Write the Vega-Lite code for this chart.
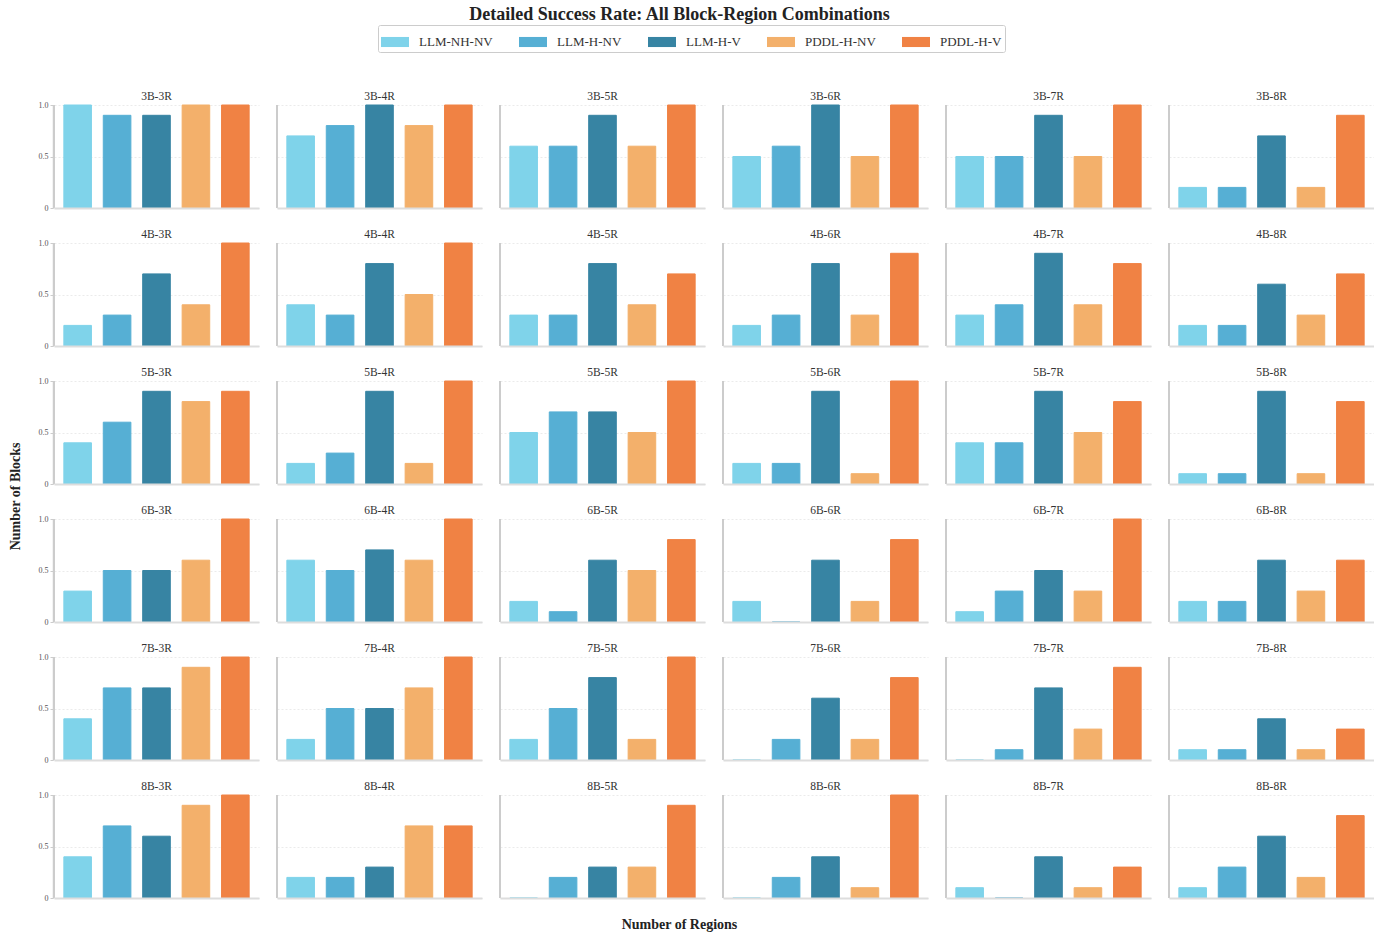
{
  "$schema": "https://vega.github.io/schema/vega-lite/v6.json",
  "background": "white",
  "padding": {"left": 8, "top": 5, "right": 0, "bottom": 5},
  "config": {
    "font": "Liberation Serif",
    "view": {"stroke": null},
    "legend": {
      "orient": "top",
      "layout": {"top": {"anchor": "middle"}},
      "direction": "horizontal",
      "columns": 5,
      "symbolType": "M-1,-0.36H1V0.36H-1Z",
      "symbolSize": 784,
      "symbolStrokeWidth": 0,
      "symbolOpacity": 1,
      "labelFontSize": 13,
      "labelFont": "Liberation Serif",
      "labelColor": "#333333",
      "columnPadding": 26,
      "labelOffset": 10,
      "strokeColor": "#cccccc",
      "padding": 3,
      "cornerRadius": 2,
      "offset": 38
    }
  },
  "title": {
    "text": "Detailed Success Rate: All Block-Region Combinations",
    "fontSize": 18,
    "fontWeight": "bold",
    "color": "#222222",
    "anchor": "middle",
    "dx": -12,
    "offset": 1
  },
  "datasets": {
    "d": [
      {"combo":"3B-3R","model":"LLM-NH-NV","rate":1.0},{"combo":"3B-3R","model":"LLM-H-NV","rate":0.9},{"combo":"3B-3R","model":"LLM-H-V","rate":0.9},{"combo":"3B-3R","model":"PDDL-H-NV","rate":1.0},{"combo":"3B-3R","model":"PDDL-H-V","rate":1.0},
      {"combo":"3B-4R","model":"LLM-NH-NV","rate":0.7},{"combo":"3B-4R","model":"LLM-H-NV","rate":0.8},{"combo":"3B-4R","model":"LLM-H-V","rate":1.0},{"combo":"3B-4R","model":"PDDL-H-NV","rate":0.8},{"combo":"3B-4R","model":"PDDL-H-V","rate":1.0},
      {"combo":"3B-5R","model":"LLM-NH-NV","rate":0.6},{"combo":"3B-5R","model":"LLM-H-NV","rate":0.6},{"combo":"3B-5R","model":"LLM-H-V","rate":0.9},{"combo":"3B-5R","model":"PDDL-H-NV","rate":0.6},{"combo":"3B-5R","model":"PDDL-H-V","rate":1.0},
      {"combo":"3B-6R","model":"LLM-NH-NV","rate":0.5},{"combo":"3B-6R","model":"LLM-H-NV","rate":0.6},{"combo":"3B-6R","model":"LLM-H-V","rate":1.0},{"combo":"3B-6R","model":"PDDL-H-NV","rate":0.5},{"combo":"3B-6R","model":"PDDL-H-V","rate":1.0},
      {"combo":"3B-7R","model":"LLM-NH-NV","rate":0.5},{"combo":"3B-7R","model":"LLM-H-NV","rate":0.5},{"combo":"3B-7R","model":"LLM-H-V","rate":0.9},{"combo":"3B-7R","model":"PDDL-H-NV","rate":0.5},{"combo":"3B-7R","model":"PDDL-H-V","rate":1.0},
      {"combo":"3B-8R","model":"LLM-NH-NV","rate":0.2},{"combo":"3B-8R","model":"LLM-H-NV","rate":0.2},{"combo":"3B-8R","model":"LLM-H-V","rate":0.7},{"combo":"3B-8R","model":"PDDL-H-NV","rate":0.2},{"combo":"3B-8R","model":"PDDL-H-V","rate":0.9},
      {"combo":"4B-3R","model":"LLM-NH-NV","rate":0.2},{"combo":"4B-3R","model":"LLM-H-NV","rate":0.3},{"combo":"4B-3R","model":"LLM-H-V","rate":0.7},{"combo":"4B-3R","model":"PDDL-H-NV","rate":0.4},{"combo":"4B-3R","model":"PDDL-H-V","rate":1.0},
      {"combo":"4B-4R","model":"LLM-NH-NV","rate":0.4},{"combo":"4B-4R","model":"LLM-H-NV","rate":0.3},{"combo":"4B-4R","model":"LLM-H-V","rate":0.8},{"combo":"4B-4R","model":"PDDL-H-NV","rate":0.5},{"combo":"4B-4R","model":"PDDL-H-V","rate":1.0},
      {"combo":"4B-5R","model":"LLM-NH-NV","rate":0.3},{"combo":"4B-5R","model":"LLM-H-NV","rate":0.3},{"combo":"4B-5R","model":"LLM-H-V","rate":0.8},{"combo":"4B-5R","model":"PDDL-H-NV","rate":0.4},{"combo":"4B-5R","model":"PDDL-H-V","rate":0.7},
      {"combo":"4B-6R","model":"LLM-NH-NV","rate":0.2},{"combo":"4B-6R","model":"LLM-H-NV","rate":0.3},{"combo":"4B-6R","model":"LLM-H-V","rate":0.8},{"combo":"4B-6R","model":"PDDL-H-NV","rate":0.3},{"combo":"4B-6R","model":"PDDL-H-V","rate":0.9},
      {"combo":"4B-7R","model":"LLM-NH-NV","rate":0.3},{"combo":"4B-7R","model":"LLM-H-NV","rate":0.4},{"combo":"4B-7R","model":"LLM-H-V","rate":0.9},{"combo":"4B-7R","model":"PDDL-H-NV","rate":0.4},{"combo":"4B-7R","model":"PDDL-H-V","rate":0.8},
      {"combo":"4B-8R","model":"LLM-NH-NV","rate":0.2},{"combo":"4B-8R","model":"LLM-H-NV","rate":0.2},{"combo":"4B-8R","model":"LLM-H-V","rate":0.6},{"combo":"4B-8R","model":"PDDL-H-NV","rate":0.3},{"combo":"4B-8R","model":"PDDL-H-V","rate":0.7},
      {"combo":"5B-3R","model":"LLM-NH-NV","rate":0.4},{"combo":"5B-3R","model":"LLM-H-NV","rate":0.6},{"combo":"5B-3R","model":"LLM-H-V","rate":0.9},{"combo":"5B-3R","model":"PDDL-H-NV","rate":0.8},{"combo":"5B-3R","model":"PDDL-H-V","rate":0.9},
      {"combo":"5B-4R","model":"LLM-NH-NV","rate":0.2},{"combo":"5B-4R","model":"LLM-H-NV","rate":0.3},{"combo":"5B-4R","model":"LLM-H-V","rate":0.9},{"combo":"5B-4R","model":"PDDL-H-NV","rate":0.2},{"combo":"5B-4R","model":"PDDL-H-V","rate":1.0},
      {"combo":"5B-5R","model":"LLM-NH-NV","rate":0.5},{"combo":"5B-5R","model":"LLM-H-NV","rate":0.7},{"combo":"5B-5R","model":"LLM-H-V","rate":0.7},{"combo":"5B-5R","model":"PDDL-H-NV","rate":0.5},{"combo":"5B-5R","model":"PDDL-H-V","rate":1.0},
      {"combo":"5B-6R","model":"LLM-NH-NV","rate":0.2},{"combo":"5B-6R","model":"LLM-H-NV","rate":0.2},{"combo":"5B-6R","model":"LLM-H-V","rate":0.9},{"combo":"5B-6R","model":"PDDL-H-NV","rate":0.1},{"combo":"5B-6R","model":"PDDL-H-V","rate":1.0},
      {"combo":"5B-7R","model":"LLM-NH-NV","rate":0.4},{"combo":"5B-7R","model":"LLM-H-NV","rate":0.4},{"combo":"5B-7R","model":"LLM-H-V","rate":0.9},{"combo":"5B-7R","model":"PDDL-H-NV","rate":0.5},{"combo":"5B-7R","model":"PDDL-H-V","rate":0.8},
      {"combo":"5B-8R","model":"LLM-NH-NV","rate":0.1},{"combo":"5B-8R","model":"LLM-H-NV","rate":0.1},{"combo":"5B-8R","model":"LLM-H-V","rate":0.9},{"combo":"5B-8R","model":"PDDL-H-NV","rate":0.1},{"combo":"5B-8R","model":"PDDL-H-V","rate":0.8},
      {"combo":"6B-3R","model":"LLM-NH-NV","rate":0.3},{"combo":"6B-3R","model":"LLM-H-NV","rate":0.5},{"combo":"6B-3R","model":"LLM-H-V","rate":0.5},{"combo":"6B-3R","model":"PDDL-H-NV","rate":0.6},{"combo":"6B-3R","model":"PDDL-H-V","rate":1.0},
      {"combo":"6B-4R","model":"LLM-NH-NV","rate":0.6},{"combo":"6B-4R","model":"LLM-H-NV","rate":0.5},{"combo":"6B-4R","model":"LLM-H-V","rate":0.7},{"combo":"6B-4R","model":"PDDL-H-NV","rate":0.6},{"combo":"6B-4R","model":"PDDL-H-V","rate":1.0},
      {"combo":"6B-5R","model":"LLM-NH-NV","rate":0.2},{"combo":"6B-5R","model":"LLM-H-NV","rate":0.1},{"combo":"6B-5R","model":"LLM-H-V","rate":0.6},{"combo":"6B-5R","model":"PDDL-H-NV","rate":0.5},{"combo":"6B-5R","model":"PDDL-H-V","rate":0.8},
      {"combo":"6B-6R","model":"LLM-NH-NV","rate":0.2},{"combo":"6B-6R","model":"LLM-H-NV","rate":0.0},{"combo":"6B-6R","model":"LLM-H-V","rate":0.6},{"combo":"6B-6R","model":"PDDL-H-NV","rate":0.2},{"combo":"6B-6R","model":"PDDL-H-V","rate":0.8},
      {"combo":"6B-7R","model":"LLM-NH-NV","rate":0.1},{"combo":"6B-7R","model":"LLM-H-NV","rate":0.3},{"combo":"6B-7R","model":"LLM-H-V","rate":0.5},{"combo":"6B-7R","model":"PDDL-H-NV","rate":0.3},{"combo":"6B-7R","model":"PDDL-H-V","rate":1.0},
      {"combo":"6B-8R","model":"LLM-NH-NV","rate":0.2},{"combo":"6B-8R","model":"LLM-H-NV","rate":0.2},{"combo":"6B-8R","model":"LLM-H-V","rate":0.6},{"combo":"6B-8R","model":"PDDL-H-NV","rate":0.3},{"combo":"6B-8R","model":"PDDL-H-V","rate":0.6},
      {"combo":"7B-3R","model":"LLM-NH-NV","rate":0.4},{"combo":"7B-3R","model":"LLM-H-NV","rate":0.7},{"combo":"7B-3R","model":"LLM-H-V","rate":0.7},{"combo":"7B-3R","model":"PDDL-H-NV","rate":0.9},{"combo":"7B-3R","model":"PDDL-H-V","rate":1.0},
      {"combo":"7B-4R","model":"LLM-NH-NV","rate":0.2},{"combo":"7B-4R","model":"LLM-H-NV","rate":0.5},{"combo":"7B-4R","model":"LLM-H-V","rate":0.5},{"combo":"7B-4R","model":"PDDL-H-NV","rate":0.7},{"combo":"7B-4R","model":"PDDL-H-V","rate":1.0},
      {"combo":"7B-5R","model":"LLM-NH-NV","rate":0.2},{"combo":"7B-5R","model":"LLM-H-NV","rate":0.5},{"combo":"7B-5R","model":"LLM-H-V","rate":0.8},{"combo":"7B-5R","model":"PDDL-H-NV","rate":0.2},{"combo":"7B-5R","model":"PDDL-H-V","rate":1.0},
      {"combo":"7B-6R","model":"LLM-NH-NV","rate":0.0},{"combo":"7B-6R","model":"LLM-H-NV","rate":0.2},{"combo":"7B-6R","model":"LLM-H-V","rate":0.6},{"combo":"7B-6R","model":"PDDL-H-NV","rate":0.2},{"combo":"7B-6R","model":"PDDL-H-V","rate":0.8},
      {"combo":"7B-7R","model":"LLM-NH-NV","rate":0.0},{"combo":"7B-7R","model":"LLM-H-NV","rate":0.1},{"combo":"7B-7R","model":"LLM-H-V","rate":0.7},{"combo":"7B-7R","model":"PDDL-H-NV","rate":0.3},{"combo":"7B-7R","model":"PDDL-H-V","rate":0.9},
      {"combo":"7B-8R","model":"LLM-NH-NV","rate":0.1},{"combo":"7B-8R","model":"LLM-H-NV","rate":0.1},{"combo":"7B-8R","model":"LLM-H-V","rate":0.4},{"combo":"7B-8R","model":"PDDL-H-NV","rate":0.1},{"combo":"7B-8R","model":"PDDL-H-V","rate":0.3},
      {"combo":"8B-3R","model":"LLM-NH-NV","rate":0.4},{"combo":"8B-3R","model":"LLM-H-NV","rate":0.7},{"combo":"8B-3R","model":"LLM-H-V","rate":0.6},{"combo":"8B-3R","model":"PDDL-H-NV","rate":0.9},{"combo":"8B-3R","model":"PDDL-H-V","rate":1.0},
      {"combo":"8B-4R","model":"LLM-NH-NV","rate":0.2},{"combo":"8B-4R","model":"LLM-H-NV","rate":0.2},{"combo":"8B-4R","model":"LLM-H-V","rate":0.3},{"combo":"8B-4R","model":"PDDL-H-NV","rate":0.7},{"combo":"8B-4R","model":"PDDL-H-V","rate":0.7},
      {"combo":"8B-5R","model":"LLM-NH-NV","rate":0.0},{"combo":"8B-5R","model":"LLM-H-NV","rate":0.2},{"combo":"8B-5R","model":"LLM-H-V","rate":0.3},{"combo":"8B-5R","model":"PDDL-H-NV","rate":0.3},{"combo":"8B-5R","model":"PDDL-H-V","rate":0.9},
      {"combo":"8B-6R","model":"LLM-NH-NV","rate":0.0},{"combo":"8B-6R","model":"LLM-H-NV","rate":0.2},{"combo":"8B-6R","model":"LLM-H-V","rate":0.4},{"combo":"8B-6R","model":"PDDL-H-NV","rate":0.1},{"combo":"8B-6R","model":"PDDL-H-V","rate":1.0},
      {"combo":"8B-7R","model":"LLM-NH-NV","rate":0.1},{"combo":"8B-7R","model":"LLM-H-NV","rate":0.0},{"combo":"8B-7R","model":"LLM-H-V","rate":0.4},{"combo":"8B-7R","model":"PDDL-H-NV","rate":0.1},{"combo":"8B-7R","model":"PDDL-H-V","rate":0.3},
      {"combo":"8B-8R","model":"LLM-NH-NV","rate":0.1},{"combo":"8B-8R","model":"LLM-H-NV","rate":0.3},{"combo":"8B-8R","model":"LLM-H-V","rate":0.6},{"combo":"8B-8R","model":"PDDL-H-NV","rate":0.2},{"combo":"8B-8R","model":"PDDL-H-V","rate":0.8}
    ]
  },
  "vconcat": [
    {
      "title": {"text": "Number of Regions", "orient": "bottom", "fontSize": 14, "fontWeight": "bold", "color": "#222222", "anchor": "middle", "dx": -12, "offset": 16},
      "vconcat": [
        {
          "title": {"text": "Number of Blocks", "orient": "left", "fontSize": 14, "fontWeight": "bold", "color": "#222222", "anchor": "middle", "offset": 15},
          "data": {"name": "d"},
          "facet": {
            "field": "combo",
            "type": "nominal",
            "header": {"title": null, "labelFontSize": 11.5, "labelFont": "Liberation Serif", "labelColor": "#333333", "labelPadding": 2}
          },
          "columns": 6,
          "spacing": {"row": 19, "column": 17},
          "resolve": {"axis": {"x": "independent"}},
          "spec": {
            "width": 205,
            "height": 103,
            "layer": [
              {
                "mark": {"type": "bar", "strokeWidth": 1},
                "encoding": {
                  "x": {
                    "field": "model",
                    "type": "nominal",
                    "sort": ["LLM-NH-NV", "LLM-H-NV", "LLM-H-V", "PDDL-H-NV", "PDDL-H-V"],
                    "scale": {"paddingInner": 0.3, "paddingOuter": 0.25},
                    "axis": {"labels": false, "ticks": false, "title": null, "domain": true, "domainColor": "#dddddd", "domainWidth": 2, "zindex": 1, "grid": false}
                  },
                  "y": {
                    "field": "rate",
                    "type": "quantitative",
                    "scale": {"domain": [0, 1], "nice": false},
                    "axis": {
                      "title": null,
                      "values": [0, 0.5, 1],
                      "labelExpr": "datum.value == 0 ? '0' : format(datum.value, '.1f')",
                      "labelFontSize": 8,
                      "labelColor": "#555555",
                      "labelFont": "Liberation Serif",
                      "tickSize": 3,
                      "tickColor": "#cccccc",
                      "labelPadding": 2,
                      "domainColor": "#cccccc",
                      "domainWidth": 1.5,
                      "grid": true,
                      "gridColor": "#e6e6e6",
                      "gridDash": [2, 2],
                      "gridWidth": 0.8
                    }
                  },
                  "color": {
                    "field": "model",
                    "type": "nominal",
                    "title": null,
                    "scale": {
                      "domain": ["LLM-NH-NV", "LLM-H-NV", "LLM-H-V", "PDDL-H-NV", "PDDL-H-V"],
                      "range": ["#7fd3ea", "#56afd4", "#3784a3", "#f3b06b", "#f08244"]
                    }
                  },
                  "stroke": {
                    "field": "model",
                    "type": "nominal",
                    "title": null,
                    "scale": {
                      "domain": ["LLM-NH-NV", "LLM-H-NV", "LLM-H-V", "PDDL-H-NV", "PDDL-H-V"],
                      "range": ["#7fd3ea", "#56afd4", "#3784a3", "#f3b06b", "#f08244"]
                    }
                  }
                }
              },
              {
                "mark": {"type": "rule", "color": "#cccccc", "strokeWidth": 1.5},
                "encoding": {
                  "x": {"datum": "LLM-NH-NV", "type": "nominal", "bandPosition": -0.357}
                }
              }
            ]
          }
        }
      ]
    }
  ]
}
